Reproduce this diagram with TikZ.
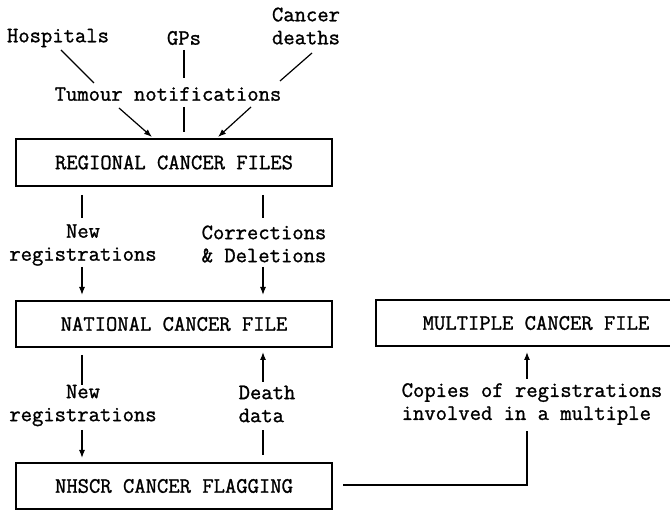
\documentclass[tikz,border=0pt]{standalone}
\usepackage{fontspec}
\newfontfamily\twfont{Latin Modern Mono}[FakeBold=1.2]
\usetikzlibrary{arrows.meta}
\tikzset{
  lbl/.style={inner sep=0pt, font=\twfont\fontsize{22}{23}\selectfont},
  filebox/.style={draw, line width=1.2pt, inner sep=0pt, minimum width=316pt, minimum height=46pt, font=\twfont\fontsize{22}{23}\selectfont},
  conn/.style={line width=1.2pt},
  arr/.style={line width=1.2pt, -{Latex[length=8pt,width=6pt]}}
}
\begin{document}
\begin{tikzpicture}[x=1pt,y=-1pt]
\clip (0,0) rectangle (670,510);
\fill[white] (0,0) rectangle (670,510);

% sources
\node[lbl] (hosp) at (58,38) {Hospitals};
\node[lbl] (gps) at (184,38) {GPs};
\node[lbl, align=center] (deaths) at (306,26) {Cancer\\deaths};
\node[lbl] (tumour) at (168,94) {Tumour notifications};

% boxes
\node[filebox, minimum height=47pt] (reg) at (174,162.5) {REGIONAL CANCER FILES};
\node[filebox] (nat) at (174,324) {NATIONAL CANCER FILE};
\node[filebox] (nhs) at (174,486) {NHSCR CANCER FLAGGING};
\node[filebox, minimum width=320pt] (mult) at (536,323) {MULTIPLE CANCER FILE};

% labels between boxes
\node[lbl, align=center] (new1) at (83,245) {New\\registrations};
\node[lbl, align=center] (corr) at (264,244) {Corrections\\\& Deletions};
\node[lbl, align=center] (new2) at (83,405.5) {New\\registrations};
\node[lbl, align=left] (death) at (267,404) {Death\\data};
\node[lbl, align=left] (copies) at (532,404) {Copies of registrations\\involved in a multiple};

% connector end points
\coordinate (h1) at (61,50);  \coordinate (h2) at (94,83);
\coordinate (h3) at (119,108); \coordinate (h4) at (152,137);
\coordinate (g1) at (184,50); \coordinate (g2) at (184,78);
\coordinate (g3) at (184,107); \coordinate (g4) at (184,132);
\coordinate (c1) at (312,53); \coordinate (c2) at (280,81);
\coordinate (c3) at (251,107); \coordinate (c4) at (218,137);

\coordinate (a1) at (82,195); \coordinate (a2) at (82,218);
\coordinate (a3) at (82,267); \coordinate (a4) at (82,295);
\coordinate (b1) at (263,195); \coordinate (b2) at (263,218);
\coordinate (b3) at (263,267); \coordinate (b4) at (263,295);

\coordinate (d1) at (82,355); \coordinate (d2) at (82,385);
\coordinate (d3) at (82,430); \coordinate (d4) at (82,458);
\coordinate (e1) at (263,455); \coordinate (e2) at (263,430);
\coordinate (e3) at (263,382); \coordinate (e4) at (263,352);

\coordinate (m1) at (343,485); \coordinate (m2) at (527,485);
\coordinate (m3) at (527,431); \coordinate (m4) at (527,379);
\coordinate (m5) at (527,352);

% connectors
\draw[conn] (h1) -- (h2);
\draw[arr] (h3) -- (h4);
\draw[conn] (g1) -- (g2);
\draw[conn] (g3) -- (g4);
\draw[conn] (c1) -- (c2);
\draw[arr] (c3) -- (c4);

\draw[conn] (a1) -- (a2);
\draw[arr] (a3) -- (a4);
\draw[conn] (b1) -- (b2);
\draw[arr] (b3) -- (b4);

\draw[conn] (d1) -- (d2);
\draw[arr] (d3) -- (d4);
\draw[conn] (e1) -- (e2);
\draw[arr] (e3) -- (e4);

\draw[conn] (m1) -- (m2) -- (m3);
\draw[arr] (m4) -- (m5);
\end{tikzpicture}
\end{document}
